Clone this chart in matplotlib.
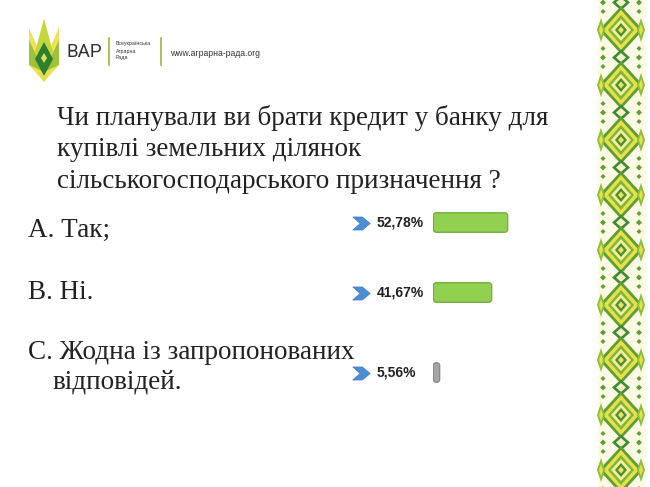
import matplotlib
matplotlib.use("Agg")
import matplotlib.pyplot as plt
from matplotlib.patches import Polygon, FancyBboxPatch, Rectangle
from matplotlib.path import Path
import numpy as np

# ---------------- data ----------------
question = ["Чи планували ви брати кредит у банку для",
            "купівлі земельних ділянок",
            "сільськогосподарського призначення ?"]
answers = ["A. Так;", "B. Ні.", "C. Жодна із запропонованих"]
answer_cont = "відповідей."
values = [52.78, 41.67, 5.56]
bar_colors = ["#92D050", "#92D050", "#A6A6A6"]
bar_edges = ["#72B043", "#72B043", "#8A8A8A"]
logo_title = "ВАР"
logo_sub = ["Всеукраїнська", "Аграрна", "Рада"]
url = "www.аграрна-рада.org"

W, H = 650, 487
fig = plt.figure(figsize=(6.5, 4.87), dpi=100)
fig.patch.set_facecolor("white")
ax = fig.add_axes([0, 0, 1, 1])
ax.set_xlim(0, W)
ax.set_ylim(H, 0)
ax.axis("off")

TXT = "#222222"
SERIF = "Liberation Serif"

# ---------------- logo ----------------
ax.add_patch(Polygon([(29, 28), (37, 46), (44, 19), (51, 46), (59, 27), (59, 65), (44, 82), (29, 65)],
                     closed=True, fc="#EDE35A", ec="none"))
ax.add_patch(Polygon([(44, 19), (53, 52), (44, 70), (35, 52)], closed=True, fc="#C5D63C", ec="none"))
ax.add_patch(Polygon([(29, 40), (44, 72), (29, 65)], closed=True, fc="#9FC23A", ec="none"))
ax.add_patch(Polygon([(59, 40), (44, 72), (59, 65)], closed=True, fc="#9FC23A", ec="none"))
ax.add_patch(Polygon([(44, 42), (53, 59), (44, 76), (35, 59)], closed=True, fc="#2F7F2F", ec="none"))
ax.add_patch(Polygon([(44, 53), (47, 58), (44, 63), (41, 58)], closed=True, fc="#D9E35A", ec="none"))
ax.add_patch(Polygon([(36, 68), (44, 82), (52, 68), (44, 76)], closed=True, fc="#E4DC4C", ec="none"))

ax.text(67, 52, logo_title, fontsize=13.5, family="Roboto", color="#333333",
        va="center", ha="left")
ax.plot([108.5, 108.5], [38, 65], color="#9CB63A", lw=1.2)
for i, s in enumerate(logo_sub):
    ax.text(116, 44 + i * 7, s, fontsize=3.8, family="Liberation Sans", color="#333333",
            va="center", ha="left")
ax.plot([160.5, 160.5], [38, 65], color="#9CB63A", lw=1.2)
ax.text(170, 53, url, fontsize=6.2, family="Liberation Sans", color="#333333",
        va="center", ha="left")

# ---------------- ornament band ----------------
cx = 621
ax.add_patch(Rectangle((598, 0), 48, H, fc="#FCFAE4", ec="none"))
for k in range(-1, 10):
    yc = 30 + 55 * k
    def dia(hw, hh, col, y=yc, x=cx):
        ax.add_patch(Polygon([(x, y - hh), (x + hw, y), (x, y + hh), (x - hw, y)],
                             closed=True, fc=col, ec="none"))
    dia(22, 24, "#5E9E34")
    dia(18, 20, "#E6E04A")
    dia(13, 15, "#7FB53A")
    dia(10, 11, "#F3EE9C")
    dia(6, 7, "#4E8F2E")
    dia(3, 3.5, "#E9E26A")
    # junction motif
    yj = yc + 27.5
    dia(9, 8, "#3F8A34", y=yj)
    dia(5, 4.5, "#F5F2C8", y=yj)
    for sx in (603, 639):
        dia(3, 3, "#5E9E34", y=yj, x=sx)
        dia(2.5, 2.5, "#5E9E34", y=yj - 9, x=sx)
        dia(2.5, 2.5, "#5E9E34", y=yj + 9, x=sx)
    # side leaves
    for sx in (601, 641):
        dia(4, 12, "#8CBF3F", y=yc, x=sx)
        dia(2, 6, "#E6E04A", y=yc, x=sx)

# ---------------- question ----------------
for i, line in enumerate(question):
    ax.text(57, 125 + i * 31.5, line, fontsize=19.5, family=SERIF, color=TXT,
            va="baseline", ha="left")

# ---------------- answers ----------------
ans_base = [237, 299, 359]
for s, yb in zip(answers, ans_base):
    ax.text(28, yb, s, fontsize=19.5, family=SERIF, color=TXT, va="baseline", ha="left")
ax.text(53, 388, answer_cont, fontsize=19.5, family=SERIF, color=TXT, va="baseline", ha="left")

# ---------------- bars ----------------
ypos = [222.5, 292.5, 372.5]
bar_h = 20.5
x0_px, px_per_pct = 432.5, 1.44
bax = fig.add_axes([x0_px / W, 0, px_per_pct * 100 / W, 1])
bax.set_xlim(0, 100)
bax.set_ylim(H, 0)
bax.axis("off")
bars = bax.barh(ypos, values, height=bar_h, color=bar_colors)
for b, fc, ec in zip(bars, bar_colors, bar_edges):
    x, y = b.get_x(), b.get_y()
    w, h = b.get_width(), b.get_height()
    b.set_visible(False)
    r = min(2.0, w / 2.5)
    bax.add_patch(FancyBboxPatch((x + r * 0.3, y + 0.5), w - r * 0.6, h - 1.0,
                                 boxstyle=f"round,pad=0,rounding_size={r}",
                                 mutation_aspect=px_per_pct, fc=fc, ec=ec, lw=1.0))

# chevrons + labels
chev = Path([(-1, 0.75), (0.1, 0.75), (1, 0), (0.1, -0.75), (-1, -0.75), (-0.15, 0), (-1, 0.75)],
            [Path.MOVETO] + [Path.LINETO] * 5 + [Path.CLOSEPOLY])
ax.plot([361] * len(ypos), ypos, ls="none", marker=chev, markersize=12.5,
        mfc="#4A8ED6", mec="#3C7CC2", mew=0.5)
for v, yc in zip(values, ypos):
    lbl = f"{v:.2f}".replace(".", ",") + "%"
    ax.text(377, yc, lbl, fontsize=10, family="Liberation Sans", weight="bold",
            color=TXT, va="center", ha="left")

fig.savefig("out.png", dpi=100, facecolor="white")
